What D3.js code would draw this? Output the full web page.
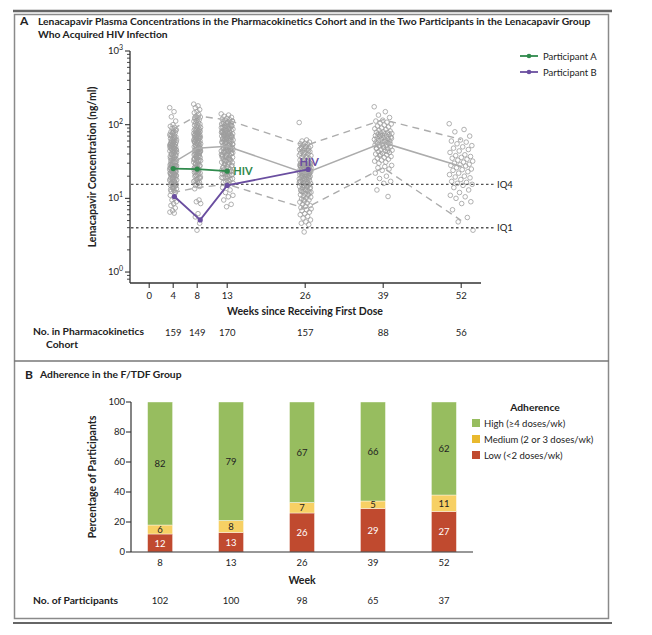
<!DOCTYPE html>
<html>
<head>
<meta charset="utf-8">
<script src="https://cdn.jsdelivr.net/npm/d3@7"></script>
<style>
  body { margin: 0; background: #fff; }
  svg { display: block; font-family: Lato, "Open Sans", sans-serif; }
</style>
</head>
<body>
<svg id="chart" width="652" height="635"></svg>
<script>
// ---------------- DATA ----------------
// Panel A
const pkWeeks = [4, 8, 13, 26, 39, 52];
const pkCounts = [159, 149, 170, 157, 88, 56];
const xTickWeeks = [0, 4, 8, 13, 26, 39, 52];
const medianConc = [30.6, 48, 51, 22, 57, 27];
const upperConc = [88, 132, 116, 52, 117, 63];
const lowerConc = [12, 14, 15.5, 7.3, 26, 5];
const iq4 = 15.5;
const iq1 = 4.0;
const participantAWeeks = [4, 8, 13];
const participantAConc = [25.4, 25, 23.4];
const participantBWeeks = [4.2, 8.5, 13, 26.5];
const participantBConc = [10.6, 5.1, 15, 24.7];

const week4Conc = [170,150,128,112,100,95,92,89,
  85,82,80,78,76,74,72,70,68,66,65,64,63,62,61,60,84,79,71,67,
  59,58,57,56,55,54,53,52,51,50,49,48,47,46,45,58,56,54,52,50,48,47,46,45,53,
  44,43,42,41,40,39,38,37,36,35,34,33,32,31,30,44,42,40,38,36,35,34,33,32,31,30,
  29.5,29,28.5,28,27.5,27,26.5,26,25.5,25,24.5,24,23.5,23,22.5,22,21.5,21,20.5,20,
  29,28,27,26,25,24,23,22,21,20.2,28.8,27.7,26.4,25.2,24.1,23.3,22.2,21.1,20.7,20.1,
  19.5,19,18.5,18,17.5,17,16.5,16,15.5,15,14.5,14,13.5,13,12.5,12,
  19.2,18.2,17.2,16.2,15.2,14.2,13.2,12.2,18.8,17.8,16.8,15.8,14.8,13.8,
  11,10,9.5,9,8.5,8,7.4,6.8,6.5,6.3];
const week8Conc = [190,180,170,160,150,145,138,
  130,127,124,120,117,114,111,108,105,102,100,98,96,94,92,90,88,86,85,84,83,82,81,80,125,
  78,77,76,75,74,73,72,71,70,69,68,67,66,65,64,63,62,61,60,59,58,57,56,55,54,53,52,51,50,49,48,47.5,
  76.5,72.5,68.5,64.5,60.5,56.5,52.5,48.5,70.5,58.5,
  46,45,44,43,42,41,40,39,38,37,36,35,34,33,32,31,30,29,28,27,26,25,
  45.5,43.5,41.5,39.5,37.5,35.5,33.5,31.5,29.5,27.5,25.5,44.5,40.5,36.5,32.5,28.5,26.5,42.5,38.5,34.5,
  24,23,22,21,20,19,18,17,16,15,14.5,23.5,22.5,21.5,20.5,19.5,18.5,17.5,16.5,15.5,24.5,22.8,20.8,18.8,16.8,
  13.5,9.5,9,8.5,6.2,5.6,4.6,3.7];
const week13Conc = [140,135,130,126,122,119,117,115,
  112,110,108,106,104,102,100,98,96,94,92,90,88,87,86,85,84,83,82,81,80,111,107,103,99,95,91,89,93,97,
  79,78,77,76,75,74,73,72,71,70,69,68,67,66,65,64,63,62,61,60,59,58,57,56,55,54,53,52,51,50,
  78.5,75.5,72.5,69.5,66.5,63.5,60.5,57.5,54.5,51.5,76.5,70.5,64.5,58.5,52.5,62.5,
  49,48,47,46,45,44,43,42,41,40,39,38,37,36,35,34,33,32,31,30,29,28,27,26,25,
  48.5,46.5,44.5,42.5,40.5,38.5,36.5,34.5,32.5,30.5,28.5,26.5,47.5,43.5,39.5,35.5,31.5,27.5,45.5,37.5,33.5,29.5,
  41.5,25.5,48.2,44.2,36.2,
  24,23,22,21,20,19,18,17,16,15.5,24.5,23.5,22.5,21.5,20.5,19.5,18.5,17.5,16.5,23.2,21.2,19.2,17.2,22.8,20.8,18.8,
  14,13,12,11,10.5,9.5,8.3,7.7];
const week26Conc = [107,62,60,58,56,55,54,53,
  51,50,49,48,47,46,45,44,43,42,41,40,39,38,37,36,35,34,33,32,31,30,50.5,47.5,44.5,41.5,38.5,35.5,32.5,30.5,
  29.8,29.6,29.4,29.2,29,28.8,28.6,28.4,28.2,28,27.8,27.5,27.2,27,26.8,26.5,26.2,26,25.8,25.5,25.2,25,24.8,24.5,24.2,24,
  23.8,23.5,23.2,23,22.8,22.5,22.2,22,29.1,27.6,26.1,24.6,23.1,22.1,
  21.7,21.4,21.1,20.8,20.5,20.2,19.9,19.6,19.3,19,18.7,18.4,18.1,17.8,17.5,17.2,16.9,16.6,16.3,16,15.7,15.4,15.1,14.8,
  14.5,14.2,13.9,13.6,13.3,13,12.7,12.4,12.1,21,20,19,18,17,16,15,14,13,12.5,20.6,18.6,16.6,14.6,12.3,
  11.8,11.5,11.2,11,10.7,10.4,10.1,9.8,9.5,9.2,8.9,8.6,8.3,8,7.8,7.5,11.4,9.6,
  7.2,7,6.8,6.5,6.2,6,5.7,5.4,5.1,4.8,4.6,4.4,3.5];
const week39Conc = [175,150,135,125,
  115,112,108,105,102,99,96,93,90,88,86,84,82,80,
  79,78,77,76,75,74,73,72,71,70,69,68,67,66,65,64,63,62,61,60,59,58,57.5,71.5,65.5,59.5,
  56,55,54,53,52,51,50,49,48,47,46,45,44,43,42,41,40,39,38,37,36,35,34,33,32,31,30,55.5,51.5,47.5,43.5,39.5,
  28,27,26,25,24,22,20,18.6,17,16,13,10.6];
const week52Conc = [103,86,80,70,
  62,60,58,55,52,50,48,46,44,42,
  39,38,37,36,35,34,33,32,31,30,29,28.5,28,27.5,
  26,25,24.5,24,23,22,21,20,19.5,19,18,17,16.5,16,15.5,15,
  14,13,12,11,10.5,10,9,8.5,7,5.5,4.8,3.7];
const pkScatter = [week4Conc, week8Conc, week13Conc, week26Conc, week39Conc, week52Conc];
const yMajor = [1, 10, 100, 1000];
const yExp = ["0", "1", "2", "3"];

// Panel B
const adhWeeks = ["8", "13", "26", "39", "52"];
const adhCounts = [102, 100, 98, 65, 37];
const lowPct = [12, 13, 26, 29, 27];
const mediumPct = [6, 8, 7, 5, 11];
const highPct = [82, 79, 67, 66, 62];
const adhTicks = [0, 20, 40, 60, 80, 100];
const adhLegend = ["High (\u22654 doses/wk)", "Medium (2 or 3 doses/wk)", "Low (<2 doses/wk)"];

// ---------------- STYLE ----------------
const C = {
  frame: "#8a8a8a", axis: "#333", text: "#222",
  dot: "#9d9d9d", pct: "#acacac", iq: "#555",
  green: "#2f8a4c", purple: "#6a4ea0",
  high: "#97bd5f", med: "#f7d064", low: "#c04a2f"
};

const svg = d3.select("#chart");
svg.append("rect").attr("width", 652).attr("height", 635).attr("fill", "#fff");

// frame
svg.append("line").attr("x1", 13).attr("x2", 612).attr("y1", 11).attr("y2", 11)
  .attr("stroke", "#666").attr("stroke-width", 2.5);
svg.append("rect").attr("x", 14.5).attr("y", 14.5).attr("width", 594).attr("height", 604)
  .attr("fill", "none").attr("stroke", C.frame).attr("stroke-width", 1.5);
svg.append("line").attr("x1", 14).attr("x2", 609).attr("y1", 361).attr("y2", 361)
  .attr("stroke", "#777").attr("stroke-width", 1.5);
svg.append("line").attr("x1", 13).attr("x2", 612).attr("y1", 623).attr("y2", 623)
  .attr("stroke", "#666").attr("stroke-width", 2);

// ---------------- PANEL A ----------------
const gA = svg.append("g");
gA.append("text").attr("x", 20).attr("y", 25).attr("font-size", 12).attr("font-weight", 700)
  .attr("fill", C.text).text("A");
gA.append("text").attr("x", 38).attr("y", 25).attr("font-size", 10.3).attr("font-weight", 700)
  .attr("fill", C.text)
  .text("Lenacapavir Plasma Concentrations in the Pharmacokinetics Cohort and in the Two Participants in the Lenacapavir Group");
gA.append("text").attr("x", 38).attr("y", 37.5).attr("font-size", 10.3).attr("font-weight", 700)
  .attr("fill", C.text).text("Who Acquired HIV Infection");

const x = d3.scaleLinear().domain([-3.2, 55.3]).range([130, 481]);
const y = d3.scaleLog().domain([0.71, 1000]).range([283, 51]);

// scatter
const spreads = [3.5, 3.5, 6, 6, 9, 12];
pkScatter.forEach((vals, k) => {
  gA.append("g").selectAll("circle").data(vals).join("circle")
    .attr("cx", (d, i) => x(pkWeeks[k]) + ((i * 0.6180339887) % 1 - 0.5) * 2 * spreads[k])
    .attr("cy", d => y(d))
    .attr("r", 2.3)
    .attr("fill", "none").attr("stroke", C.dot).attr("stroke-width", 0.8);
});

// percentile lines
const line = d3.line().x(d => x(d[0])).y(d => y(d[1]));
gA.append("path").attr("d", line(d3.zip(pkWeeks, medianConc)))
  .attr("fill", "none").attr("stroke", C.pct).attr("stroke-width", 1.5);
[upperConc, lowerConc].forEach(arr => {
  gA.append("path").attr("d", line(d3.zip(pkWeeks, arr)))
    .attr("fill", "none").attr("stroke", C.pct).attr("stroke-width", 1.4)
    .attr("stroke-dasharray", "7,5");
});

// IQ lines
[[iq4, "IQ4"], [iq1, "IQ1"]].forEach(([v, lab]) => {
  gA.append("line").attr("x1", 131).attr("x2", 496).attr("y1", y(v)).attr("y2", y(v))
    .attr("stroke", C.iq).attr("stroke-width", 1.4).attr("stroke-dasharray", "2.5,2.5");
  gA.append("text").attr("x", 497).attr("y", y(v) + 3.5).attr("font-size", 9.5)
    .attr("fill", C.text).text(lab);
});

// participants
function participant(wks, vals, color) {
  const pts = d3.zip(wks, vals);
  gA.append("path").attr("d", line(pts)).attr("fill", "none")
    .attr("stroke", color).attr("stroke-width", 1.8);
  gA.append("g").selectAll("circle").data(pts).join("circle")
    .attr("cx", d => x(d[0])).attr("cy", d => y(d[1])).attr("r", 2.6).attr("fill", color);
}
participant(participantAWeeks, participantAConc, C.green);
participant(participantBWeeks, participantBConc, C.purple);
gA.append("text").attr("x", x(participantAWeeks[2]) + 6)
  .attr("y", y(participantAConc[2]) + 4).attr("font-size", 11).attr("font-weight", 700)
  .attr("fill", C.green).text("HIV");
gA.append("text").attr("x", x(participantBWeeks[3]) + 1)
  .attr("y", y(participantBConc[3]) - 3).attr("text-anchor", "middle")
  .attr("font-size", 11).attr("font-weight", 700).attr("fill", C.purple).text("HIV");

// axes
gA.append("line").attr("x1", 130).attr("x2", 130).attr("y1", 51).attr("y2", 283)
  .attr("stroke", C.axis).attr("stroke-width", 1.3);
gA.append("line").attr("x1", 130).attr("x2", 481).attr("y1", 283).attr("y2", 283)
  .attr("stroke", C.axis).attr("stroke-width", 1.3);
const minor = [];
[0.1, 1, 10, 100].forEach(b => { for (let m = 2; m <= 9; m++) { const v = b * m; if (v >= 0.71 && v < 1000) minor.push(v); } });
gA.append("g").selectAll("line").data(minor).join("line")
  .attr("x1", 127).attr("x2", 130).attr("y1", d => y(d)).attr("y2", d => y(d))
  .attr("stroke", C.axis).attr("stroke-width", 0.9);
gA.append("g").selectAll("line").data(yMajor).join("line")
  .attr("x1", 125).attr("x2", 130).attr("y1", d => y(d)).attr("y2", d => y(d))
  .attr("stroke", C.axis).attr("stroke-width", 1.1);
const yl = gA.append("g").selectAll("text").data(yMajor).join("text")
  .attr("x", 123).attr("y", d => y(d) + 3).attr("text-anchor", "end")
  .attr("font-size", 9.5).attr("fill", C.text);
yl.append("tspan").text("10");
yl.append("tspan").attr("dy", -4).attr("font-size", 7).text((d, i) => yExp[i]);

gA.append("g").selectAll("line").data(xTickWeeks).join("line")
  .attr("x1", d => x(d)).attr("x2", d => x(d)).attr("y1", 283).attr("y2", 288)
  .attr("stroke", C.axis).attr("stroke-width", 1.1);
gA.append("g").selectAll("text").data(xTickWeeks).join("text")
  .attr("x", d => x(d)).attr("y", 299).attr("text-anchor", "middle")
  .attr("font-size", 9.5).attr("fill", C.text).text(d => d);
gA.append("text").attr("x", 305).attr("y", 315).attr("text-anchor", "middle")
  .attr("font-size", 10.5).attr("font-weight", 700).attr("fill", C.text)
  .text("Weeks since Receiving First Dose");
gA.append("text").attr("transform", "translate(96,167) rotate(-90)").attr("text-anchor", "middle")
  .attr("font-size", 10.5).attr("font-weight", 700).attr("fill", C.text)
  .text("Lenacapavir Concentration (ng/ml)");

// counts
gA.append("text").attr("x", 33).attr("y", 335).attr("font-size", 10.3).attr("font-weight", 700)
  .attr("fill", C.text).text("No. in Pharmacokinetics");
gA.append("text").attr("x", 46).attr("y", 348).attr("font-size", 10.3).attr("font-weight", 700)
  .attr("fill", C.text).text("Cohort");
gA.append("g").selectAll("text").data(pkCounts).join("text")
  .attr("x", (d, i) => x(pkWeeks[i])).attr("y", 336).attr("text-anchor", "middle")
  .attr("font-size", 9.5).attr("fill", C.text).text(d => d);

// legend A
[["Participant A", C.green], ["Participant B", C.purple]].forEach(([lab, col], i) => {
  const yy = 56 + i * 16;
  gA.append("line").attr("x1", 520).attr("x2", 538).attr("y1", yy).attr("y2", yy)
    .attr("stroke", col).attr("stroke-width", 1.8);
  gA.append("circle").attr("cx", 529).attr("cy", yy).attr("r", 2.3).attr("fill", col);
  gA.append("text").attr("x", 543).attr("y", yy + 3.5).attr("font-size", 9.5)
    .attr("fill", C.text).text(lab);
});

// ---------------- PANEL B ----------------
const gB = svg.append("g");
gB.append("text").attr("x", 25).attr("y", 379).attr("font-size", 12).attr("font-weight", 700)
  .attr("fill", C.text).text("B");
gB.append("text").attr("x", 40).attr("y", 378).attr("font-size", 10.3).attr("font-weight", 700)
  .attr("fill", C.text).text("Adherence in the F/TDF Group");

const xb = d3.scalePoint().domain(adhWeeks).range([131, 473]).padding(0.41);
const yb = d3.scaleLinear().domain([0, 100]).range([552, 402]);
const bw = 25;

const segs = adhWeeks.map((w, i) => {
  const l = lowPct[i], m = mediumPct[i], h = highPct[i];
  return [
    { w, y0: 0, y1: l, v: l, c: C.low, tc: "#fff" },
    { w, y0: l, y1: l + m, v: m, c: C.med, tc: C.text },
    { w, y0: l + m, y1: l + m + h, v: h, c: C.high, tc: C.text }
  ];
}).flat();

gB.append("g").selectAll("rect").data(segs).join("rect")
  .attr("x", d => xb(d.w) - bw / 2).attr("width", bw)
  .attr("y", d => yb(d.y1)).attr("height", d => yb(d.y0) - yb(d.y1))
  .attr("fill", d => d.c).attr("stroke", "#fff").attr("stroke-width", 0.4);
gB.append("g").selectAll("text").data(segs).join("text")
  .attr("x", d => xb(d.w)).attr("y", d => yb((d.y0 + d.y1) / 2) + 3.5)
  .attr("text-anchor", "middle").attr("font-size", 9.5).attr("fill", d => d.tc)
  .text(d => d.v);

gB.append("line").attr("x1", 131).attr("x2", 131).attr("y1", 402).attr("y2", 552)
  .attr("stroke", C.axis).attr("stroke-width", 1.2);
gB.append("line").attr("x1", 131).attr("x2", 473).attr("y1", 552).attr("y2", 552)
  .attr("stroke", C.axis).attr("stroke-width", 1.2);
gB.append("g").selectAll("line").data(adhTicks).join("line")
  .attr("x1", 126).attr("x2", 131).attr("y1", d => yb(d)).attr("y2", d => yb(d))
  .attr("stroke", C.axis).attr("stroke-width", 1.1);
gB.append("g").selectAll("text").data(adhTicks).join("text")
  .attr("x", 125).attr("y", d => yb(d) + 3.3).attr("text-anchor", "end")
  .attr("font-size", 9.5).attr("fill", C.text).text(d => d);
gB.append("g").selectAll("text").data(adhWeeks).join("text")
  .attr("x", d => xb(d)).attr("y", 566).attr("text-anchor", "middle")
  .attr("font-size", 9.5).attr("fill", C.text).text(d => d);
gB.append("text").attr("x", xb("26")).attr("y", 584).attr("text-anchor", "middle")
  .attr("font-size", 10.5).attr("font-weight", 700).attr("fill", C.text).text("Week");
gB.append("text").attr("transform", "translate(96,477) rotate(-90)").attr("text-anchor", "middle")
  .attr("font-size", 10.5).attr("font-weight", 700).attr("fill", C.text)
  .text("Percentage of Participants");
gB.append("text").attr("x", 33).attr("y", 604).attr("font-size", 10.3).attr("font-weight", 700)
  .attr("fill", C.text).text("No. of Participants");
gB.append("g").selectAll("text").data(adhCounts).join("text")
  .attr("x", (d, i) => xb(adhWeeks[i])).attr("y", 604).attr("text-anchor", "middle")
  .attr("font-size", 9.5).attr("fill", C.text).text(d => d);

// legend B
gB.append("text").attr("x", 535).attr("y", 411).attr("text-anchor", "middle")
  .attr("font-size", 10.3).attr("font-weight", 700).attr("fill", C.text).text("Adherence");
[C.high, "#e9b92e", C.low].forEach((col, i) => {
  const yy = 423 + i * 16;
  gB.append("rect").attr("x", 472).attr("y", yy - 4).attr("width", 8).attr("height", 8).attr("fill", col);
  gB.append("text").attr("x", 484).attr("y", yy + 3.5).attr("font-size", 9.5)
    .attr("fill", C.text).text(adhLegend[i]);
});
</script>
</body>
</html>
